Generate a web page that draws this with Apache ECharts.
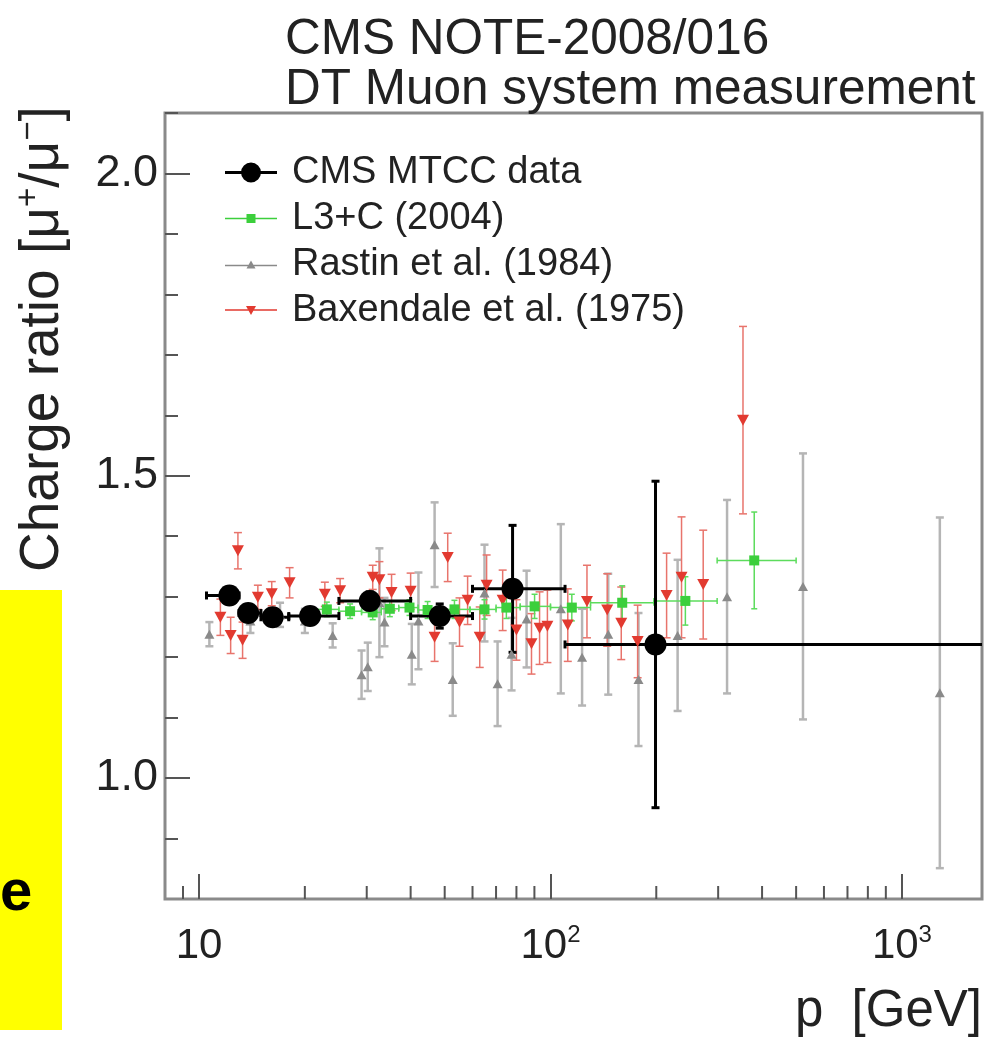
<!DOCTYPE html>
<html>
<head>
<meta charset="utf-8">
<title>Charge ratio</title>
<script src="https://cdn.jsdelivr.net/npm/echarts@6/dist/echarts.min.js"></script>
<style>
  html, body { margin: 0; padding: 0; background: #fff; }
  #main { width: 987px; height: 1037px; }
</style>
</head>
<body>
<div id="main"></div>
<script>
var FONT = '"Liberation Sans", Arial, Helvetica, sans-serif';

// CMS MTCC data (p bins with x error bars)
var cmsP   = [12.2, 13.8, 16.2, 20.7, 30.6, 48.4, 78, 199];
var cmsR   = [1.302, 1.273, 1.266, 1.268, 1.293, 1.268, 1.313, 1.221];
var cmsErr = [0.012, 0.012, 0.012, 0.012, 0.015, 0.02, 0.105, 0.27];
var cmsPLo = [10.5, 13, 15, 18, 25, 40, 60, 110];
var cmsPHi = [13, 15, 18, 25, 40, 60, 110, 2000];

// L3+C (2004)
var l3cP   = [23.1, 26.9, 31.2, 34.9, 39.7, 44.7, 53.3, 64.9, 74.9, 90.1, 115, 160, 242, 380];
var l3cR   = [1.279, 1.276, 1.274, 1.280, 1.282, 1.278, 1.279, 1.279, 1.282, 1.284, 1.282, 1.290, 1.293, 1.360];
var l3cErr = [0.012, 0.012, 0.012, 0.013, 0.013, 0.014, 0.015, 0.016, 0.018, 0.02, 0.022, 0.028, 0.04, 0.08];
var l3cPLo = [21, 25, 29, 33, 37, 42, 48, 59, 70, 82, 100, 130, 197, 298];
var l3cPHi = [25, 29, 33, 37, 42, 48, 59, 70, 82, 100, 130, 197, 298, 500];

// Rastin et al. (1984)
var rasP   = [10.7, 14, 17, 20, 24, 29, 30.2, 32.6, 33.7, 40.3, 42.1, 46.8, 52.7, 64.9, 70.7, 77.5, 85.5, 107, 123, 146, 178, 230, 318, 523, 1282];
var rasR   = [1.238, 1.26, 1.27, 1.26, 1.236, 1.171, 1.184, 1.29, 1.258, 1.205, 1.26, 1.386, 1.163, 1.306, 1.156, 1.205, 1.263, 1.28, 1.2, 1.238, 1.163, 1.236, 1.3, 1.317, 1.141];
var rasErr = [0.02, 0.02, 0.02, 0.02, 0.02, 0.04, 0.04, 0.09, 0.04, 0.05, 0.08, 0.07, 0.06, 0.08, 0.07, 0.06, 0.08, 0.14, 0.08, 0.1, 0.11, 0.125, 0.16, 0.22, 0.29];

// Baxendale et al. (1975)
var baxP   = [11.5, 12.3, 12.9, 13.3, 14.7, 16.1, 18.1, 22.8, 25.2, 31.2, 32.6, 35.3, 40.0, 46.8, 51.0, 55.1, 58.1, 62.9, 65.8, 73.1, 80.0, 88.3, 93.1, 98.0, 112, 127, 145, 159, 177, 214, 236, 272, 353];
var baxR   = [1.266, 1.236, 1.376, 1.228, 1.299, 1.305, 1.323, 1.304, 1.310, 1.332, 1.328, 1.307, 1.309, 1.233, 1.365, 1.258, 1.294, 1.233, 1.319, 1.294, 1.245, 1.222, 1.248, 1.251, 1.253, 1.292, 1.278, 1.256, 1.226, 1.302, 1.332, 1.320, 1.592];
var baxErr = [0.03, 0.03, 0.03, 0.03, 0.02, 0.02, 0.025, 0.02, 0.02, 0.02, 0.03, 0.03, 0.03, 0.04, 0.04, 0.04, 0.04, 0.05, 0.05, 0.05, 0.05, 0.05, 0.06, 0.06, 0.06, 0.06, 0.06, 0.06, 0.06, 0.07, 0.1, 0.09, 0.155];

// axis ticks
var xMinorTicks = [9, 20, 30, 40, 50, 60, 70, 80, 90, 200, 300, 400, 500, 600, 700, 800, 900];
var yMajorTicks = [1.0, 1.5, 2.0];
var yMinorTicks = [0.9, 1.1, 1.2, 1.3, 1.4, 1.6, 1.7, 1.8, 1.9, 2.1];

var Y_MIN = 0.8, Y_MAX = 2.1;

function rows(p, r, err, lo, hi) {
  return p.map(function (x, i) {
    var row = [x, r[i], err[i]];
    if (lo) row.push(lo[i], hi[i]);
    return row;
  });
}

function seg(x1, y1, x2, y2, color, width) {
  return { type: 'line', shape: { x1: x1, y1: y1, x2: x2, y2: y2 }, style: { stroke: color, lineWidth: width } };
}

// error bars drawn through the axes
function errBars(color, width, cap, withX) {
  return function (params, api) {
    var p = api.value(0), r = api.value(1), e = api.value(2);
    var c = api.coord([p, r]);
    var t = api.coord([p, r + e]);
    var b = api.coord([p, r - e]);
    var kids = [
      seg(c[0], t[1], c[0], b[1], color, width),
      seg(c[0] - cap, t[1], c[0] + cap, t[1], color, width),
      seg(c[0] - cap, b[1], c[0] + cap, b[1], color, width)
    ];
    if (withX) {
      var l = api.coord([api.value(3), r]);
      var h = api.coord([api.value(4), r]);
      kids.push(seg(l[0], c[1], h[0], c[1], color, width));
      kids.push(seg(l[0], c[1] - cap, l[0], c[1] + cap, color, width));
      kids.push(seg(h[0], c[1] - cap, h[0], c[1] + cap, color, width));
    }
    return { type: 'group', children: kids };
  };
}

function pts(p, r) {
  return p.map(function (x, i) { return [x, r[i]]; });
}

var myChart = echarts.init(document.getElementById('main'));

var option = {
  animation: false,
  backgroundColor: '#fff',
  title: {
    text: 'CMS NOTE-2008/016\nDT Muon system measurement',
    left: 285,
    top: 15,
    padding: 0,
    textStyle: { fontFamily: FONT, fontSize: 49.5, lineHeight: 50, fontWeight: 'normal', color: '#222' }
  },
  legend: {
    orient: 'vertical',
    left: 220,
    top: 148,
    itemWidth: 52,
    itemHeight: 20,
    itemGap: 7,
    selectedMode: false,
    textStyle: { fontFamily: FONT, fontSize: 38, color: '#222', lineHeight: 39, padding: [0, 0, 0, 10] },
    data: [
      { name: 'CMS MTCC data', icon: 'path://M0,8.5L52,8.5L52,11.5L0,11.5Z M16,10A10,10 0 1,1 36,10A10,10 0 1,1 16,10Z' },
      { name: 'L3+C (2004)', icon: 'path://M0,9.2L52,9.2L52,10.8L0,10.8Z M21.5,5.5L30.5,5.5L30.5,14.5L21.5,14.5Z' },
      { name: 'Rastin et al. (1984)', icon: 'path://M0,9.3L52,9.3L52,10.7L0,10.7Z M26,5L30.5,13L21.5,13Z' },
      { name: 'Baxendale et al. (1975)', icon: 'path://M0,9.3L52,9.3L52,10.7L0,10.7Z M21,6L31,6L26,15Z' }
    ]
  },
  grid: {
    left: 165, right: 5, top: 113, bottom: 138,
    outerBoundsMode: 'none',
    containLabel: false,
    show: true, borderColor: '#8a8a8a', borderWidth: 3
  },
  xAxis: {
    type: 'log',
    logBase: 10,
    min: 8,
    max: 1690,
    axisLine: { show: false },
    splitLine: { show: false },
    axisTick: { inside: true, length: 25, lineStyle: { color: '#555', width: 2 } },
    axisLabel: {
      showMinLabel: false,
      showMaxLabel: false,
      margin: 24,
      formatter: function (v) {
        var lg = Math.log(v) / Math.LN10;
        var e = Math.round(lg);
        if (Math.abs(lg - e) > 1e-6) return '';
        return e === 1 ? '{b|10}' : '{b|10}{s|' + e + '}';
      },
      rich: {
        b: { fontFamily: FONT, fontSize: 42, lineHeight: 46, color: '#222' },
        s: { fontFamily: FONT, fontSize: 24, lineHeight: 24, verticalAlign: 'top', color: '#222' }
      }
    }
  },
  yAxis: [{
    type: 'value',
    min: Y_MIN,
    max: Y_MAX,
    axisLine: { show: false },
    splitLine: { show: false },
    axisTick: { inside: true, length: 25, customValues: yMajorTicks, lineStyle: { color: '#555', width: 2 } },
    axisLabel: {
      customValues: yMajorTicks,
      margin: 7,
      fontFamily: FONT, fontSize: 45, color: '#222',
      formatter: function (v) { return v.toFixed(1); }
    }
  }, {
    type: 'value',
    position: 'left',
    min: Y_MIN,
    max: Y_MAX,
    axisLine: { show: false },
    splitLine: { show: false },
    axisLabel: { show: false },
    axisTick: { inside: true, length: 13, customValues: yMinorTicks, lineStyle: { color: '#555', width: 2 } }
  }],
  graphic: [
    { type: 'rect', left: 0, top: 590, shape: { width: 62, height: 440 }, style: { fill: '#ffff00' }, silent: true },
    { type: 'text', left: 0, top: 865, style: { text: 'e', font: 'bold 58px ' + FONT, fill: '#000' }, silent: true },
    {
      type: 'text', x: 43, y: 572, rotation: Math.PI / 2, silent: true,
      style: {
        text: 'Charge ratio [μ{s|+}/μ{s|−}]',
        font: '55px ' + FONT, fill: '#222',
        textAlign: 'left', textVerticalAlign: 'middle', lineHeight: 62,
        rich: { s: { fontFamily: FONT, fontSize: 33, lineHeight: 33, verticalAlign: 'top', fill: '#222' } }
      }
    },
    {
      type: 'text', x: 982, y: 1037, silent: true,
      style: { text: 'p  [GeV]', font: '51px ' + FONT, fill: '#222', textAlign: 'right', textVerticalAlign: 'bottom' }
    }
  ],
  series: [
    {
      type: 'custom',
      silent: true,
      data: xMinorTicks.map(function (v) { return [v, Y_MIN]; }),
      renderItem: function (params, api) {
        var c = api.coord([api.value(0), Y_MIN]);
        return seg(c[0], c[1], c[0], c[1] - 13, '#555', 2);
      }
    },
    { type: 'custom', silent: true, clip: true, data: rows(rasP, rasR, rasErr), renderItem: errBars('#b5b5b5', 2.5, 4, false) },
    { name: 'Rastin et al. (1984)', type: 'scatter', silent: true, data: pts(rasP, rasR), symbol: 'triangle', symbolSize: [10, 9], itemStyle: { color: '#8a8a8a', opacity: 1 } },
    { type: 'custom', silent: true, clip: true, data: rows(baxP, baxR, baxErr), renderItem: errBars('#e8746c', 1.5, 4, false) },
    { name: 'Baxendale et al. (1975)', type: 'scatter', silent: true, data: pts(baxP, baxR), symbol: 'triangle', symbolRotate: 180, symbolSize: [12, 11], itemStyle: { color: '#e23a30', opacity: 1 } },
    { type: 'custom', silent: true, clip: true, data: rows(l3cP, l3cR, l3cErr, l3cPLo, l3cPHi), renderItem: errBars('#5cdc5c', 1.5, 3, true) },
    { name: 'L3+C (2004)', type: 'scatter', silent: true, data: pts(l3cP, l3cR), symbol: 'rect', symbolSize: 10, itemStyle: { color: '#3ccf3c', opacity: 1 } },
    { type: 'custom', silent: true, clip: true, data: rows(cmsP, cmsR, cmsErr, cmsPLo, cmsPHi), renderItem: errBars('#000', 3, 4, true) },
    { name: 'CMS MTCC data', type: 'scatter', silent: true, data: pts(cmsP, cmsR), symbol: 'circle', symbolSize: 22, itemStyle: { color: '#000', opacity: 1 } }
  ]
};

myChart.setOption(option);
</script>
</body>
</html>
